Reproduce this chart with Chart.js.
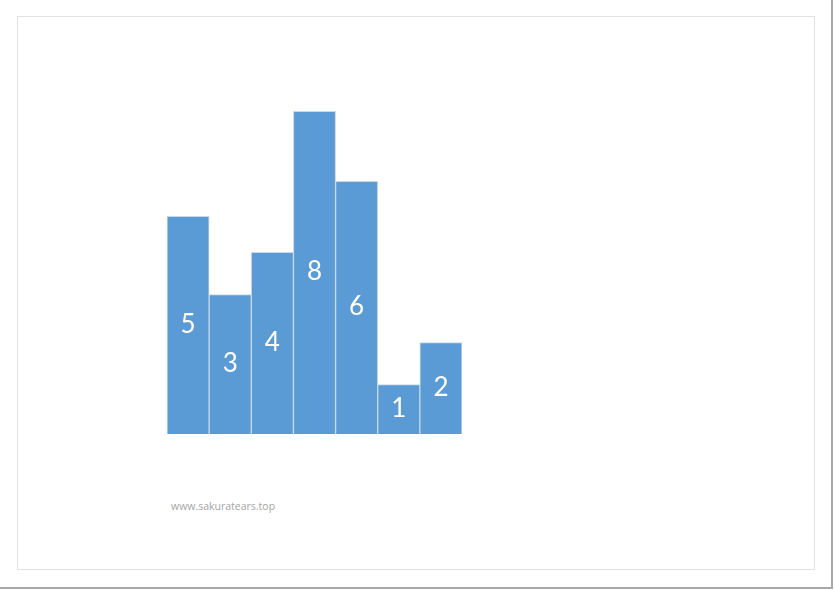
<!DOCTYPE html>
<html>
<head>
<meta charset="utf-8">
<script src="https://cdn.jsdelivr.net/npm/chart.js@4"></script>
<style>
  html, body { margin: 0; padding: 0; background: #fff; }
  body { width: 834px; height: 590px; position: relative; overflow: hidden; }
  #outer { position: absolute; left: 0; top: 0; width: 831px; height: 587px;
           border-right: 2px solid #a8a8a8; border-bottom: 2px solid #a8a8a8; box-sizing: content-box; }
  #frame { position: absolute; left: 17px; top: 16px; width: 796px; height: 552px;
           border: 1px solid #e2e2e2; }
  #wrap { position: absolute; left: 167px; top: 100px; width: 295px; height: 334px; }
  #wm { position: absolute; left: 171px; top: 499px; font-family: "Open Sans", "DejaVu Sans", sans-serif;
        font-size: 10.5px; color: #a6a6a6; white-space: nowrap; }
</style>
</head>
<body>
<div id="outer"></div>
<div id="frame"></div>
<div id="wrap"><canvas id="c"></canvas></div>
<div id="wm">www.sakuratears.top</div>
<script>
const categories = ["A", "B", "C", "D", "E", "F", "G"];
const barHeights = [5.43, 3.48, 4.53, 8.05, 6.3, 1.23, 2.28];
const barLabels = ["5", "3", "4", "8", "6", "1", "2"];
const yMax = 8.33;

const centerLabels = {
  id: "centerLabels",
  afterDatasetsDraw(chart) {
    const ctx = chart.ctx;
    const meta = chart.getDatasetMeta(0);
    ctx.save();
    ctx.fillStyle = "#ffffff";
    ctx.font = "26px Lato, 'Open Sans', sans-serif";
    ctx.textAlign = "center";
    ctx.textBaseline = "middle";
    meta.data.forEach((bar, i) => {
      const p = bar.getProps(["x", "y", "base"], true);
      ctx.fillText(barLabels[i], p.x, (p.y + p.base) / 2 - 1);
    });
    ctx.restore();
  }
};

new Chart(document.getElementById("c"), {
  type: "bar",
  data: {
    labels: categories,
    datasets: [{
      data: barHeights,
      backgroundColor: "#5b9bd5",
      borderColor: "#c6d9ee",
      borderWidth: 1,
      categoryPercentage: 1,
      barPercentage: 1
    }]
  },
  options: {
    responsive: true,
    maintainAspectRatio: false,
    animation: false,
    layout: { padding: 0 },
    plugins: { legend: { display: false }, tooltip: { enabled: false } },
    scales: {
      x: { display: false, offset: true },
      y: { display: false, min: 0, max: yMax }
    }
  },
  plugins: [centerLabels]
});
</script>
</body>
</html>
